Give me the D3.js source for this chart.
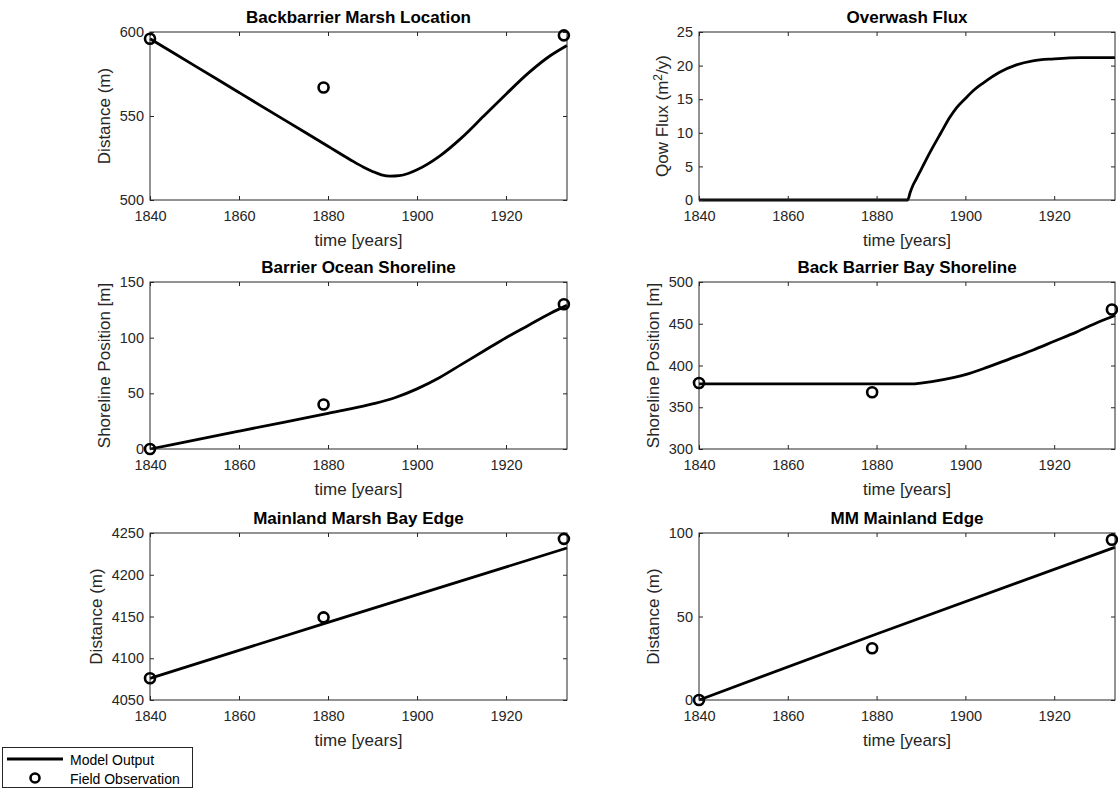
<!DOCTYPE html>
<html><head><meta charset="utf-8">
<script src="https://cdn.jsdelivr.net/npm/d3@7"></script>
<style>
body{margin:0;background:#fff;}
text{font-family:Arial,"Liberation Sans",Helvetica,sans-serif;}
</style></head>
<body><svg id="c" width="1118" height="791"></svg>
<script>
// ---- data ----
const xDomain = [1840, 1933.7];
const xTicks = [1840, 1860, 1880, 1900, 1920];
const obsYears = [1840, 1879, 1933];

const marshYears = [1840,1850,1860,1870,1880,1885,1888,1890,1892,1894,1896,1898,1900,1905,1910,1915,1920,1925,1930,1933.7];
const marshModel = [596,580,564,548,532,524,519.5,517,515,514.2,514.5,515.8,518,526,537,550,563,575.5,586,592];
const marshObs = [596,567,598];

const fluxYears = [1840,1860,1880,1887,1887.6,1888.2,1889,1890,1891,1892.7,1894.5,1896.5,1898,1900,1902,1904,1907.7,1911.5,1915.2,1920,1926,1933.7];
const fluxModel = [0,0,0,0,1.2,2.2,3.2,4.5,5.8,7.9,10.0,12.3,13.7,15.1,16.4,17.4,19.0,20.1,20.7,21.0,21.2,21.2];

const oceanYears = [1840,1850,1860,1870,1880,1885,1890,1895,1900,1905,1910,1915,1920,1925,1930,1933.7];
const oceanModel = [0,8,16,24,32,36,40.5,46,54,64,76,88,100,111,122,129];
const oceanObs = [0,40,130];

const bayYears = [1840,1860,1880,1888,1890,1895,1900,1905,1910,1915,1920,1925,1930,1933.7];
const bayModel = [378,378,378,378,379,383,389,398,408,418,429,440,452,460];
const bayObs = [379,368,467];

const mainlandYears = [1840,1880,1933.7];
const mainlandModel = [4076,4143,4232];
const mainlandObs = [4076,4149,4243];

const mmYears = [1840,1880,1933.7];
const mmModel = [0,39.5,91.5];
const mmObs = [0,31,96];

const panels = [
  {title:"Backbarrier Marsh Location", ylabel:"Distance (m)", yDomain:[500,600], yTicks:[500,550,600], xs:marshYears, ys:marshModel, obs:marshObs, col:0, row:0},
  {title:"Overwash Flux", ylabel:"flux", yDomain:[0,25], yTicks:[0,5,10,15,20,25], xs:fluxYears, ys:fluxModel, obs:null, col:1, row:0},
  {title:"Barrier Ocean Shoreline", ylabel:"Shoreline Position [m]", yDomain:[0,150], yTicks:[0,50,100,150], xs:oceanYears, ys:oceanModel, obs:oceanObs, col:0, row:1},
  {title:"Back Barrier Bay Shoreline", ylabel:"Shoreline Position [m]", yDomain:[300,500], yTicks:[300,350,400,450,500], xs:bayYears, ys:bayModel, obs:bayObs, col:1, row:1},
  {title:"Mainland Marsh Bay Edge", ylabel:"Distance (m)", yDomain:[4050,4250], yTicks:[4050,4100,4150,4200,4250], xs:mainlandYears, ys:mainlandModel, obs:mainlandObs, col:0, row:2},
  {title:"MM Mainland Edge", ylabel:"Distance (m)", yDomain:[0,100], yTicks:[0,50,100], xs:mmYears, ys:mmModel, obs:mmObs, col:1, row:2}
];

// ---- layout ----
const colX = [[150,567],[699,1115]];
const rowY = [[32,200],[282,449],[533,700]];
const axisColor = "#262626";
const svg = d3.select("#c");

panels.forEach(p => {
  const [x0,x1] = colX[p.col], [y0,y1] = rowY[p.row];
  const x = d3.scaleLinear().domain(xDomain).range([x0,x1]);
  const y = d3.scaleLinear().domain(p.yDomain).range([y1,y0]);
  const g = svg.append("g");
  const tl = 4;

  const line = d3.line().x((d,i)=>x(p.xs[i])).y(d=>y(d)).curve(d3.curveMonotoneX);
  g.append("path").attr("d", line(p.ys)).attr("fill","none").attr("stroke","#000").attr("stroke-width",2.8).attr("stroke-linejoin","round");

  g.append("rect").attr("x",x0).attr("y",y0).attr("width",x1-x0).attr("height",y1-y0)
   .attr("fill","none").attr("stroke",axisColor).attr("stroke-width",1);
  const bx = g.append("g").attr("transform",`translate(0,${y1})`)
    .call(d3.axisBottom(x).tickValues(xTicks).tickSize(-tl).tickPadding(10.5).tickFormat(d3.format("d")));
  const tx = g.append("g").attr("transform",`translate(0,${y0})`)
    .call(d3.axisTop(x).tickValues(xTicks).tickSize(-tl).tickFormat(""));
  const ly = g.append("g").attr("transform",`translate(${x0},0)`)
    .call(d3.axisLeft(y).tickValues(p.yTicks).tickSize(-tl).tickPadding(6).tickFormat(d3.format("d")));
  const ry = g.append("g").attr("transform",`translate(${x1},0)`)
    .call(d3.axisRight(y).tickValues(p.yTicks).tickSize(-tl).tickFormat(""));
  [bx,tx,ly,ry].forEach(a=>{
    a.select(".domain").remove();
    a.selectAll("line").attr("stroke",axisColor);
    a.selectAll("text").attr("fill",axisColor).style("font-size","14.5px");
  });

  if (p.obs) {
    g.selectAll("circle.obs").data(p.obs).enter().append("circle")
     .attr("cx",(d,i)=>x(obsYears[i])).attr("cy",d=>y(d)).attr("r",5)
     .attr("fill","none").attr("stroke","#000").attr("stroke-width",2.6);
  }

  g.append("text").attr("x",(x0+x1)/2).attr("y",y0-9).attr("text-anchor","middle")
   .style("font-size","17px").style("font-weight","bold").attr("fill","#000").text(p.title);
  g.append("text").attr("x",(x0+x1)/2).attr("y",y1+46).attr("text-anchor","middle")
   .style("font-size","17px").attr("fill",axisColor).text("time [years]");
  const maxDigits = d3.max(p.yTicks, t => String(t).length);
  const off = 15 + maxDigits * 8.2;
  const yl = g.append("text").attr("transform",`translate(${x0-off},${(y0+y1)/2}) rotate(-90)`)
   .attr("text-anchor","middle").style("font-size","17px").attr("fill",axisColor);
  if (p.ylabel === "flux") {
    yl.append("tspan").text("Qow Flux (m");
    yl.append("tspan").attr("dy",-6).style("font-size","12px").text("2");
    yl.append("tspan").attr("dy",6).text("/y)");
  } else yl.text(p.ylabel);
});

// legend
const lg = svg.append("g");
lg.append("rect").attr("x",2.5).attr("y",747.5).attr("width",190).attr("height",40)
  .attr("fill","#fff").attr("stroke",axisColor).attr("stroke-width",1);
lg.append("line").attr("x1",7).attr("x2",63).attr("y1",759).attr("y2",759).attr("stroke","#000").attr("stroke-width",2.8);
lg.append("circle").attr("cx",35).attr("cy",778).attr("r",4.5).attr("fill","none").attr("stroke","#000").attr("stroke-width",2.6);
lg.append("text").attr("x",70).attr("y",764.5).style("font-size","14px").attr("fill","#000").text("Model Output");
lg.append("text").attr("x",70).attr("y",783.5).style("font-size","14px").attr("fill","#000").text("Field Observation");
</script></body></html>
